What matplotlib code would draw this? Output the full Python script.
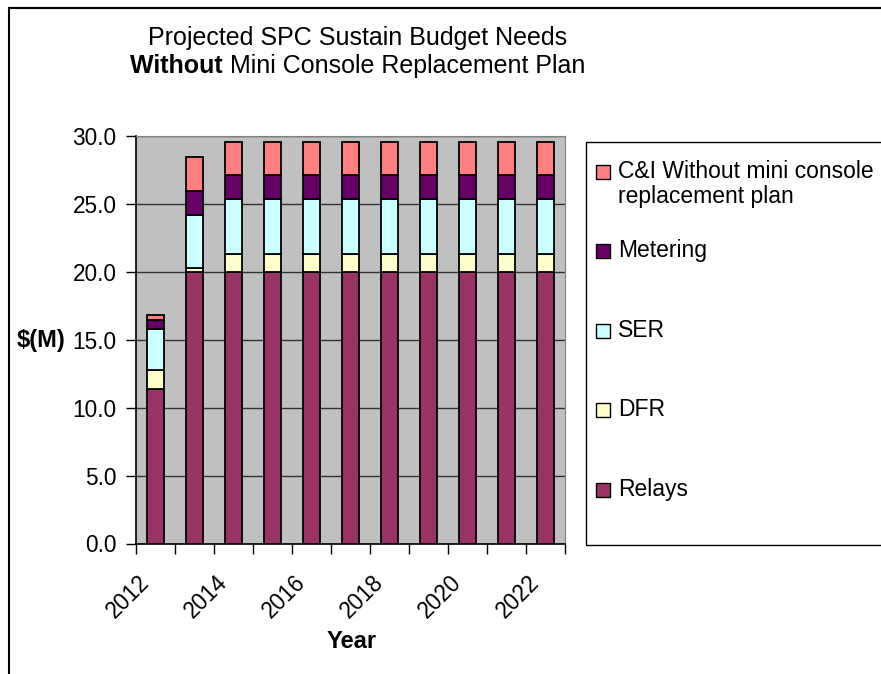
import matplotlib
matplotlib.use('Agg')
import matplotlib.pyplot as plt
import matplotlib.patches as mpatches
import matplotlib.ticker as mticker
import numpy as np

plt.rcParams['font.family'] = ['Liberation Sans', 'DejaVu Sans']

# data
years = ['2012', '2013', '2014', '2015', '2016', '2017', '2018', '2019', '2020', '2021', '2022']
relays = [11.35, 20.0, 20.0, 20.0, 20.0, 20.0, 20.0, 20.0, 20.0, 20.0, 20.0]
dfr = [1.42, 0.25, 1.32, 1.32, 1.32, 1.32, 1.32, 1.32, 1.32, 1.32, 1.32]
ser = [3.02, 3.9, 4.05, 4.05, 4.05, 4.05, 4.05, 4.05, 4.05, 4.05, 4.05]
metering = [0.7, 1.77, 1.77, 1.77, 1.77, 1.77, 1.77, 1.77, 1.77, 1.77, 1.77]
ci = [0.32, 2.5, 2.41, 2.41, 2.41, 2.41, 2.41, 2.41, 2.41, 2.41, 2.41]

series = [('Relays', relays, '#993366'),
          ('DFR', dfr, '#FFFFCC'),
          ('SER', ser, '#CCFFFF'),
          ('Metering', metering, '#660066'),
          ('C&I Without mini console\nreplacement plan', ci, '#FF8080')]

W, H = 881, 674
fs = 16.3
fig = plt.figure(figsize=(W / 100, H / 100), dpi=100)
ax = fig.add_axes([136 / W, 1 - 543.5 / H, (565 - 136) / W, (543.5 - 136) / H])
ax.set_facecolor('#C0C0C0')

x = np.arange(len(years))
bottom = np.zeros(len(years))
for name, vals, col in series:
    ax.bar(x, vals, 0.45, bottom=bottom, color=col, edgecolor='black', linewidth=1.3, zorder=3)
    bottom += np.array(vals)

ax.set_xlim(-0.5, len(years) - 0.5)
ax.set_ylim(0, 30)
ax.yaxis.set_major_locator(mticker.MultipleLocator(5))
ax.yaxis.set_major_formatter(mticker.FormatStrFormatter('%.1f'))
ax.grid(axis='y', color='#333333', linewidth=1.0, zorder=1)
ax.tick_params(axis='y', labelsize=fs, length=7, width=1, direction='out', pad=7)

# tick marks between categories, labels every other year
ax.set_xticks(np.arange(len(years) + 1) - 0.5)
ax.set_xticklabels([])
ax.tick_params(axis='x', length=7, width=1, direction='out')
for i in range(0, len(years), 2):
    ax.text(x[i] - 0.45, -2.0, years[i], rotation=45, ha='right', va='top',
            fontsize=fs, rotation_mode='anchor')

for s in ['top', 'right']:
    ax.spines[s].set_color('#808080')
for s in ['left', 'bottom']:
    ax.spines[s].set_color('black')
    ax.spines[s].set_linewidth(1.2)

fig.text(41 / W, 1 - 340 / H, '$(M)', fontsize=17, fontweight='bold', ha='center', va='center')
fig.text(352 / W, 1 - 642 / H, 'Year', fontsize=17, fontweight='bold', ha='center', va='center')

# title, second line with a bold first word
tfs = 18
fig.text(358 / W, 1 - 38 / H, 'Projected SPC Sustain Budget Needs', fontsize=tfs, ha='center', va='center')
r = fig.canvas.get_renderer()
t1 = fig.text(0, 1 - 66 / H, 'Without ', fontsize=tfs, fontweight='bold', ha='left', va='center')
t2 = fig.text(0, 1 - 66 / H, 'Mini Console Replacement Plan', fontsize=tfs, ha='left', va='center')
w1 = t1.get_window_extent(r).width
w2 = t2.get_window_extent(r).width
x0 = 357.5 - (w1 + w2) / 2
t1.set_x(x0 / W)
t2.set_x((x0 + w1) / W)

# outer chart border
fig.patches.append(mpatches.Rectangle((8.5 / W, -0.1), 1.2, 1 - 7.5 / H + 0.1, transform=fig.transFigure,
                                      fill=False, edgecolor='black', linewidth=1.5))

# legend box
fig.patches.append(mpatches.Rectangle((586 / W, 1 - 545 / H), 0.5, (545 - 142) / H, transform=fig.transFigure,
                                      fill=False, edgecolor='black', linewidth=1.0))
leg_y = [172, 251, 331, 410, 490]
for (name, vals, col), yy in zip(series[::-1], leg_y):
    fig.patches.append(mpatches.Rectangle((596 / W, 1 - (yy + 7) / H), 14 / W, 14 / H,
                                          transform=fig.transFigure, facecolor=col,
                                          edgecolor='black', linewidth=1.0))
    fig.text(618 / W, 1 - (yy - 12) / H, name, fontsize=16.5, ha='left', va='top', linespacing=1.1)

fig.savefig('out.png', dpi=100)
